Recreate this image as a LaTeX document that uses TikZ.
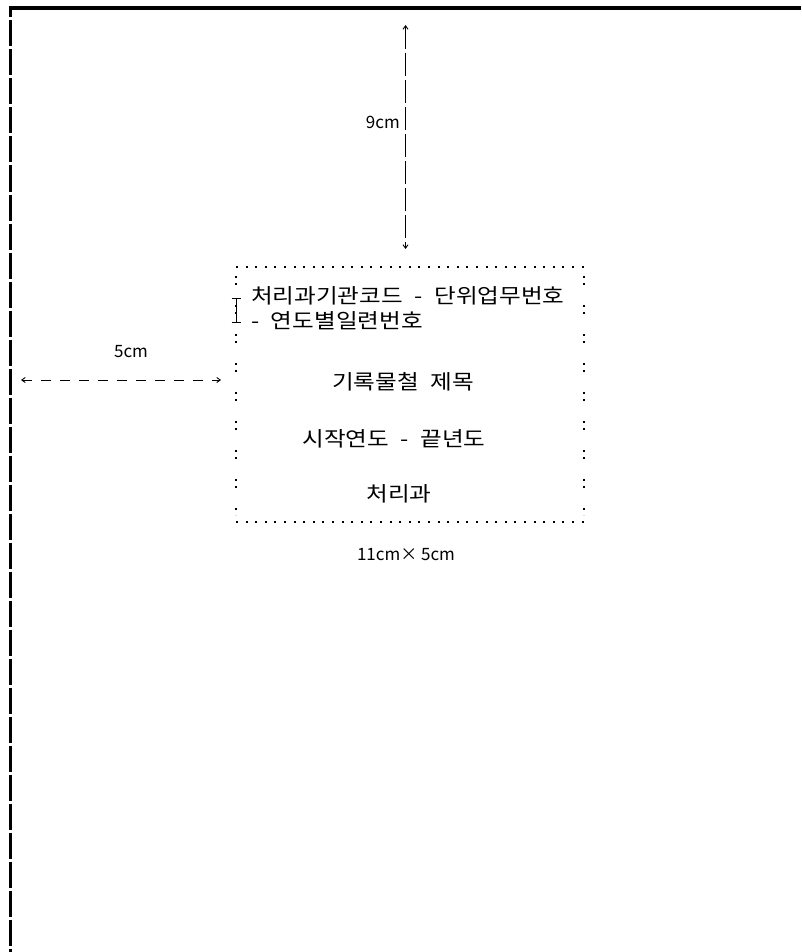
\documentclass[tikz,border=0pt]{standalone}
\usepackage{fontspec}
\setmainfont{Noto Sans CJK KR}
\newfontfamily\krfont[FakeStretch=1.15, WordSpace=2.2]{Noto Sans CJK KR}
\usetikzlibrary{arrows.meta}
\begin{document}
\begin{tikzpicture}[x=1pt,y=-1pt,
  lbl/.style={inner sep=0pt, font=\krfont\fontsize{20.5}{20.5}\selectfont},
  dimlbl/.style={inner sep=0pt, font=\fontsize{17}{17}\selectfont},
  vdim/.style={line width=0.9pt, dash pattern=on 23pt off 4pt, {Straight Barb[length=3.5pt,width=5pt]}-{Straight Barb[length=3.5pt,width=5pt]}},
  hdim/.style={line width=0.9pt, dash pattern=on 10pt off 9pt, {Straight Barb[length=3.5pt,width=5pt]}-{Straight Barb[length=3.5pt,width=5pt]}},
  hdots/.style={line width=2pt, dash pattern=on 2pt off 7.6pt},
  vdots/.style={line width=2pt, dash pattern=on 2pt off 5pt on 2pt off 20pt},
  frametop/.style={line width=3.5pt},
  frameleft/.style={line width=3pt, dash pattern=on 26pt off 3pt, dash phase=15pt}
]
\useasboundingbox (0,0) rectangle (801,952);
\fill[white] (0,0) rectangle (801,952);

% page frame
\coordinate (ftl) at (8.5,8);
\coordinate (ftr) at (801,8);
\coordinate (fbl) at (10,952);
\draw[frametop] (ftl) -- (ftr);
\draw[frameleft] (10,6.5) -- (fbl);

% dotted label box
\coordinate (btl) at (236,267);
\coordinate (btr) at (586,267);
\coordinate (bbl) at (236,522);
\coordinate (bbr) at (586,522);
\draw[hdots] (btl) -- (btr);
\draw[hdots] (bbl) -- (bbr);
\draw[vdots] (236,276) -- (236,515);
\draw[vdots] (584,276) -- (584,515);

% vertical 9cm dimension
\coordinate (vtop) at (405.5,25);
\coordinate (vbot) at (405.5,249);
\draw[vdim] (vtop) -- (vbot);
\node[dimlbl, anchor=east] (l9) at (400,122) {9cm};

% horizontal 5cm dimension
\coordinate (hl) at (21,380);
\coordinate (hr) at (221,380);
\draw[hdim] (hl) -- (hr);
\node[dimlbl] (l5) at (131,352) {5cm};

% small marker at left of first lines
\coordinate (mt) at (236,298);
\coordinate (mb) at (236,322);
\draw[line width=1pt] (231.5,298) -- (240.5,298);
\draw[line width=1pt] (mt) -- (mb);
\draw[line width=1pt] (231.5,322) -- (240.5,322);

% texts
\node[lbl, anchor=west] (t1) at (251,296) {처리과기관코드 - 단위업무번호};
\node[lbl, anchor=west] (t2) at (251,321) {- 연도별일련번호};
\node[lbl] (t3) at (403,382) {기록물철 제목};
\node[lbl] (t4) at (394,439) {시작연도 - 끝년도};
\node[lbl] (t5) at (399,494) {처리과};
\node[dimlbl] (t6) at (406,555) {11cm× 5cm};
\end{tikzpicture}
\end{document}
